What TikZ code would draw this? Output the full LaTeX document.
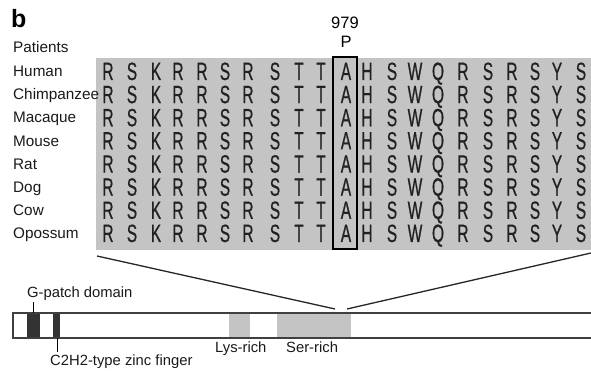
\documentclass[tikz,border=0pt]{standalone}
\usepackage{fontspec}
\setmainfont{Liberation Sans}
\newfontfamily\seqfont[FakeStretch=0.62,FakeBold=0.6]{Liberation Sans}
\definecolor{stipplegray}{gray}{0.77}
\definecolor{inkgray}{gray}{0.13}
\definecolor{darkblock}{gray}{0.2}
\tikzset{
  rowlabel/.style={anchor=base west, inner sep=0, font=\fontsize{15.3}{17}\selectfont, text=black!90},
  residue/.style={anchor=base, inner sep=0, font=\seqfont\fontsize{25}{26}\selectfont, text=inkgray},
  tag/.style={anchor=base west, inner sep=0, font=\fontsize{14.8}{17}\selectfont, text=black!90},
  barline/.style={line width=1.4pt, draw=black!75},
  zoomline/.style={line width=1.3pt, draw=black!85},
}
\begin{document}
\begin{tikzpicture}[x=1pt,y=-1pt]
\useasboundingbox (0,0) rectangle (591,371);

% panel letter
\node[anchor=base west, inner sep=0, font=\bfseries\fontsize{25}{27}\selectfont] (panel) at (11,28) {b};

% alignment background
\fill[stipplegray] (96,58) rectangle (591,250);

% header row
\node[rowlabel] (patients) at (13,52.5) {Patients};

% species rows and residues
\foreach \sp [count=\i from 0] in {Human,Chimpanzee,Macaque,Mouse,Rat,Dog,Cow,Opossum} {
  \pgfmathsetmacro{\yc}{71+23.14*\i}
  \node[rowlabel] (sp\i) at (13,\yc+5.6) {\sp};
  \foreach \xc/\aa [count=\c] in {108/R,132/S,156/K,178/R,202/R,225/S,248/R,275/S,299/T,321/T,346/A,367/H,392/S,415/W,438/Q,463/R,488/S,512/R,535/S,557/Y,581/S} {
    \node[residue] (r\i-\c) at (\xc,\yc+9) {\aa};
  }
}

% mutated position
\node[draw=black, line width=1.8pt, minimum width=24, minimum height=192, inner sep=0] (mut) at (345,153) {};
\node[anchor=base, inner sep=0, font=\fontsize{16.5}{18}\selectfont] (pat) at (346,48) {P};
\node[anchor=base, inner sep=0, font=\fontsize{16.5}{18}\selectfont] (pos) at (345,29) {979};

% protein bar
\fill[darkblock] (27,313) rectangle (40,338);
\fill[darkblock] (53,313) rectangle (60,338);
\fill[stipplegray] (229,313) rectangle (250,338);
\fill[stipplegray] (277,313) rectangle (351,338);
\draw[barline] (595,313) -- (13,313) -- (13,338) -- (595,338);

% zoom lines from the bar to the alignment
\coordinate (zl) at (97,256);
\coordinate (zr) at (591,253);
\coordinate (bl) at (335,309);
\coordinate (br) at (347,309);
\draw[zoomline] (zl) -- (bl);
\draw[zoomline] (br) -- (zr);

% domain labels
\coordinate (gtop) at (33,302);
\coordinate (gbar) at (33,313);
\draw[line width=1pt] (gbar) -- (gtop);
\node[tag] (gpatch) at (27,297) {G-patch domain};
\coordinate (cbar) at (57,338);
\coordinate (cbot) at (57,352);
\draw[line width=1pt] (cbar) -- (cbot);
\node[tag] (c2h2) at (50,365.5) {C2H2-type zinc finger};
\node[tag] (lys) at (215,352.5) {Lys-rich};
\node[tag] (ser) at (286,352.5) {Ser-rich};
\end{tikzpicture}
\end{document}
